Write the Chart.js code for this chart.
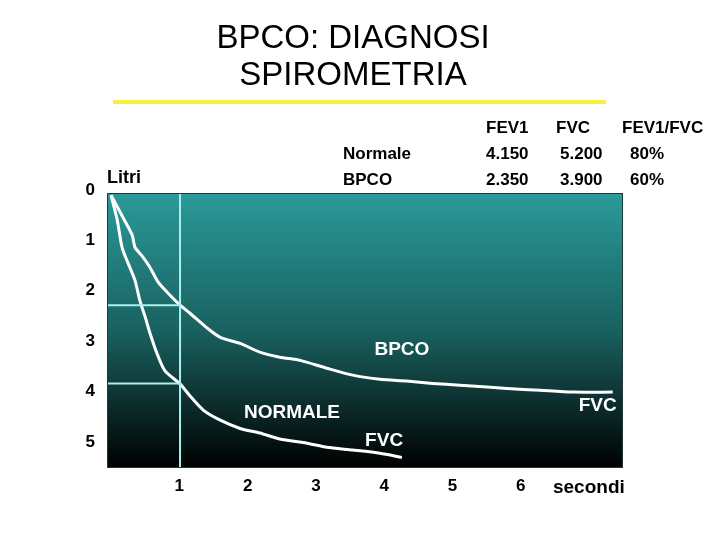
<!DOCTYPE html>
<html>
<head>
<meta charset="utf-8">
<script src="https://cdn.jsdelivr.net/npm/chart.js@4.4.1/dist/chart.umd.min.js"></script>
<style>
  html, body { margin: 0; padding: 0; background: #fff; }
</style>
</head>
<body>
<canvas id="chart" width="720" height="540"></canvas>
<script>
// chart data (time in seconds, volume in litres)
const titleLines = ['BPCO: DIAGNOSI', 'SPIROMETRIA'];
const secondsTicks = [1, 2, 3, 4, 5, 6, 7];
const secondsLabels = ['1', '2', '3', '4', '5', '6', 'secondi'];
const litriTicks = [0, 1, 2, 3, 4, 5];

const bpcoTime = [0, 0.18, 0.31, 0.35, 0.47, 0.57, 0.69, 0.86, 1.01, 1.16, 1.41, 1.60, 1.89, 2.18, 2.47, 2.77, 3.16, 3.54, 3.94, 4.33, 4.71, 5.11, 5.80, 6.28, 6.76, 7.35];
const bpcoVol  = [0, 0.50, 0.87, 1.13, 1.35, 1.57, 1.89, 2.17, 2.39, 2.57, 2.89, 3.09, 3.22, 3.41, 3.52, 3.59, 3.76, 3.91, 4.00, 4.04, 4.09, 4.13, 4.20, 4.24, 4.28, 4.28];

const normTime = [0, 0.09, 0.16, 0.25, 0.35, 0.42, 0.50, 0.57, 0.67, 0.79, 1.01, 1.16, 1.35, 1.60, 1.89, 2.18, 2.47, 2.87, 3.16, 3.54, 3.94, 4.26];
const normVol  = [0, 0.54, 1.13, 1.48, 1.85, 2.28, 2.65, 3.00, 3.43, 3.82, 4.10, 4.37, 4.67, 4.89, 5.07, 5.17, 5.30, 5.39, 5.48, 5.54, 5.61, 5.70];

const fev1Time = 1.01;
const fev1Bpco = 2.39;
const fev1Norm = 4.09;

const tableHead = ['FEV1', 'FVC', 'FEV1/FVC'];
const tableRows = [
  ['Normale', '4.150', '5.200', '80%'],
  ['BPCO', '2.350', '3.900', '60%']
];

const curveLabels = [
  { text: 'BPCO', x: 4.26, y: 3.35 },
  { text: 'NORMALE', x: 2.65, y: 4.72 },
  { text: 'FVC', x: 7.13, y: 4.57 },
  { text: 'FVC', x: 4.00, y: 5.33 }
];

const X_MIN = -0.06, X_MAX = 7.5;
const Y_MIN = -0.05, Y_MAX = 5.93;

Chart.defaults.font.family = "'Liberation Sans', Arial, sans-serif";
Chart.defaults.color = '#000';

function pts(xs, ys) {
  return xs.map((x, i) => ({ x: x, y: ys[i] }));
}

const deco = {
  id: 'deco',
  beforeDraw(chart) {
    const ctx = chart.ctx, a = chart.chartArea;
    const g = ctx.createLinearGradient(0, a.top, 0, a.bottom);
    g.addColorStop(0, '#2a9a9a');
    g.addColorStop(0.5, '#19615f');
    g.addColorStop(1, '#000000');
    ctx.save();
    ctx.fillStyle = g;
    ctx.fillRect(a.left, a.top, a.right - a.left, a.bottom - a.top);
    ctx.restore();
  },
  afterDraw(chart) {
    const ctx = chart.ctx, a = chart.chartArea;
    const xs = chart.scales.x, ys = chart.scales.y;
    ctx.save();
    // box border
    ctx.strokeStyle = '#203838';
    ctx.lineWidth = 1;
    ctx.strokeRect(a.left + 0.5, a.top + 0.5, a.right - a.left - 1, a.bottom - a.top - 1);

    // yellow rule under the title
    ctx.fillStyle = '#f8f040';
    ctx.fillRect(113, 100, 493, 4);

    // table
    ctx.fillStyle = '#000';
    ctx.font = "bold 17px 'Liberation Sans', Arial, sans-serif";
    ctx.textBaseline = 'middle';
    ctx.textAlign = 'left';
    const headX = [486, 556, 622];
    tableHead.forEach((t, i) => ctx.fillText(t, headX[i], 128));
    const colX = [343, 486, 560, 630];
    tableRows.forEach((row, r) => {
      row.forEach((t, i) => ctx.fillText(t, colX[i], 154 + r * 26));
    });

    // axis unit
    ctx.font = "bold 18px 'Liberation Sans', Arial, sans-serif";
    ctx.fillText('Litri', 107, 178);

    // curve labels
    ctx.fillStyle = '#fff';
    ctx.font = "bold 19px 'Liberation Sans', Arial, sans-serif";
    ctx.textAlign = 'center';
    curveLabels.forEach(l => {
      ctx.fillText(l.text, xs.getPixelForValue(l.x), ys.getPixelForValue(l.y));
    });
    ctx.restore();
  }
};

new Chart(document.getElementById('chart'), {
  type: 'line',
  data: {
    datasets: [
      {
        label: 'FEV1 tempo',
        data: [{ x: fev1Time, y: Y_MIN }, { x: fev1Time, y: Y_MAX }],
        borderColor: '#a8f0f0', borderWidth: 2, pointRadius: 0, tension: 0
      },
      {
        label: 'FEV1 BPCO',
        data: [{ x: X_MIN, y: fev1Bpco }, { x: fev1Time, y: fev1Bpco }],
        borderColor: '#a8f0f0', borderWidth: 2, pointRadius: 0, tension: 0
      },
      {
        label: 'FEV1 Normale',
        data: [{ x: X_MIN, y: fev1Norm }, { x: fev1Time, y: fev1Norm }],
        borderColor: '#a8f0f0', borderWidth: 2, pointRadius: 0, tension: 0
      },
      {
        label: 'BPCO',
        data: pts(bpcoTime, bpcoVol),
        borderColor: '#ffffff', borderWidth: 3, pointRadius: 0, tension: 0.25
      },
      {
        label: 'Normale',
        data: pts(normTime, normVol),
        borderColor: '#ffffff', borderWidth: 3, pointRadius: 0, tension: 0.25
      }
    ]
  },
  options: {
    responsive: false,
    animation: false,
    devicePixelRatio: 1,
    layout: { padding: { left: 83, right: 97, top: 0, bottom: 44 } },
    plugins: {
      legend: { display: false },
      tooltip: { enabled: false },
      title: {
        display: true,
        text: titleLines,
        color: '#000',
        font: { size: 33, weight: 'normal', lineHeight: 1.1 },
        padding: { top: 21, bottom: 99.4 }
      }
    },
    scales: {
      x: {
        type: 'linear',
        min: X_MIN, max: X_MAX,
        grid: { display: false, drawTicks: false },
        border: { display: false },
        afterBuildTicks: s => { s.ticks = secondsTicks.map(v => ({ value: v })); },
        afterFit: s => { s.height = 28; },
        ticks: {
          autoSkip: false,
          maxRotation: 0,
          padding: 8,
          color: '#000',
          font: c => ({ size: (c.tick && c.tick.value === 7) ? 19 : 17, weight: 'bold' }),
          callback: v => secondsLabels[secondsTicks.indexOf(v)]
        }
      },
      y: {
        type: 'linear',
        display: false,
        reverse: true,
        min: Y_MIN, max: Y_MAX
      },
      yl: {
        type: 'linear',
        position: 'left',
        reverse: true,
        min: 0, max: 5.456,
        grid: { display: false, drawTicks: false },
        border: { display: false },
        afterBuildTicks: s => { s.ticks = litriTicks.map(v => ({ value: v })); },
        afterFit: s => { s.width = 24; },
        ticks: {
          autoSkip: false,
          padding: 12,
          labelOffset: -3,
          color: '#000',
          font: { size: 17, weight: 'bold' }
        }
      }
    }
  },
  plugins: [deco]
});
</script>
</body>
</html>
